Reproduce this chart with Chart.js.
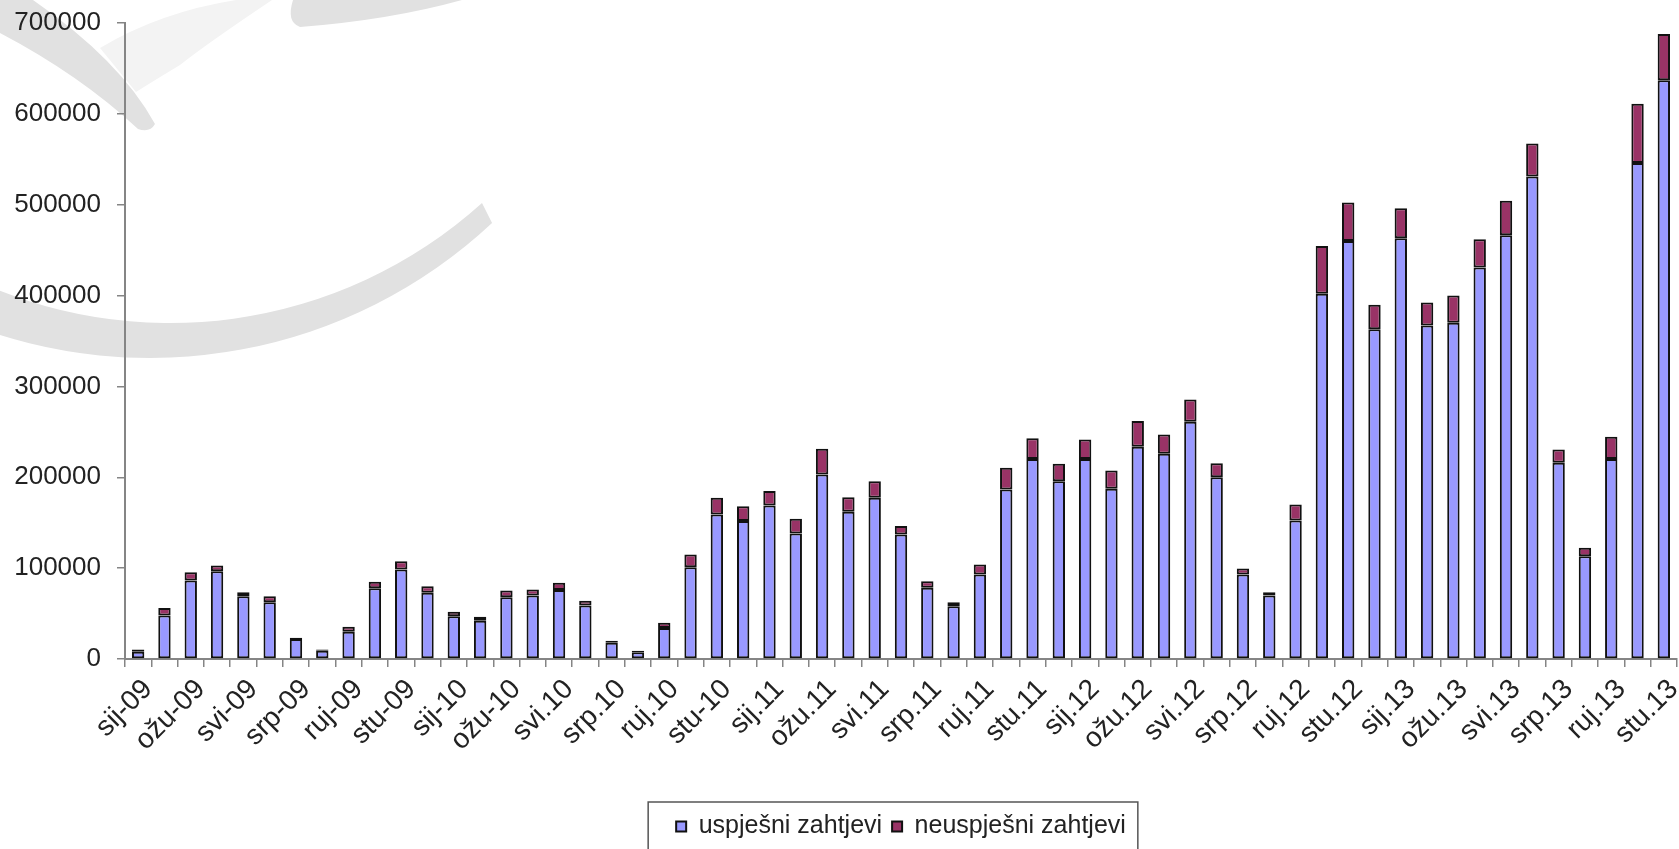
<!DOCTYPE html>
<html lang="hr">
<head>
<meta charset="utf-8">
<title>Zahtjevi po mjesecima</title>
<script src="https://cdn.jsdelivr.net/npm/chart.js@4.4.1/dist/chart.umd.min.js"></script>
<style>
  html, body { margin: 0; padding: 0; background: #fff; overflow: hidden; }
  #wrap { position: relative; width: 1679px; height: 849px; }
</style>
</head>
<body>
<div id="wrap"><canvas id="chart"></canvas></div>
<script>
// months sij-09 .. stu.13, every other one is shown on the axis
const months = [
    'sij-09', 'velj-09', 'ožu-09', 'tra-09', 'svi-09', 'lip-09', 'srp-09', 'kol-09', 'ruj-09', 'lis-09', 'stu-09', 'pro-09',
    'sij-10', 'velj-10', 'ožu-10', 'tra-10', 'svi.10', 'lip.10', 'srp.10', 'kol.10', 'ruj.10', 'lis.10', 'stu-10', 'pro.10',
    'sij.11', 'velj.11', 'ožu.11', 'tra.11', 'svi.11', 'lip.11', 'srp.11', 'kol.11', 'ruj.11', 'lis.11', 'stu.11', 'pro.11',
    'sij.12', 'velj.12', 'ožu.12', 'tra.12', 'svi.12', 'lip.12', 'srp.12', 'kol.12', 'ruj.12', 'lis.12', 'stu.12', 'pro.12',
    'sij.13', 'velj.13', 'ožu.13', 'tra.13', 'svi.13', 'lip.13', 'srp.13', 'kol.13', 'ruj.13', 'lis.13', 'stu.13'
];

const successful = [
    8000, 48000, 86500, 96500, 69000, 62500, 22000, 9000, 30000, 78000, 98500, 73000,
    47000, 42000, 68000, 70000, 76000, 59000, 18000, 7500, 34000, 101000, 159000, 152000,
    169000, 138000, 203000, 162000, 177500, 137000, 78500, 58000, 93000, 186500, 220000, 195500,
    220000, 187500, 233500, 226000, 261000, 200000, 93000, 70000, 152500, 402000, 460000, 363000,
    463000, 367000, 370000, 431000, 466500, 531000, 216000, 113000, 220000, 546000, 637000
];

const failed = [
    2500, 8000, 9000, 6500, 4500, 6500, 1500, 1500, 5500, 7000, 9000, 7000,
    5000, 4500, 7500, 6500, 8000, 5000, 2000, 1500, 6000, 14000, 18500, 16000,
    16000, 16500, 28500, 16000, 18000, 9500, 7000, 4500, 11000, 24000, 23000, 19500,
    21500, 20000, 28500, 21000, 24500, 15500, 6500, 3500, 17500, 52500, 42500, 27000,
    33000, 25500, 30000, 31000, 38000, 36500, 14500, 9500, 24500, 65000, 51000
];

const seriesNames = ['uspješni zahtjevi', 'neuspješni zahtjevi'];
const yMax = 700000;
const yStep = 100000;

const FONT = '"Liberation Sans", Arial, sans-serif';
const AXIS_GREY = '#858585';

// faint logo swoosh in the top left corner
const watermark = {
    id: 'watermark',
    beforeDraw(chart) {
        const ctx = chart.ctx;
        ctx.save();

        // pale strip
        ctx.fillStyle = '#f3f3f3';
        ctx.beginPath();
        ctx.moveTo(100, 48);
        ctx.quadraticCurveTo(160, 12, 236, 0);
        ctx.lineTo(272, 0);
        ctx.quadraticCurveTo(205, 45, 180, 65);
        ctx.quadraticCurveTo(155, 80, 136, 92);
        ctx.closePath();
        ctx.fill();

        ctx.fillStyle = '#e1e1e1';

        // big crescent
        ctx.beginPath();
        ctx.arc(150, -143, 501, Math.atan2(476, -150) + 0.08, Math.atan2(366, 342), true);
        ctx.arc(170, -142.6, 465.6, Math.atan2(345.6, 312), Math.atan2(425.6, -170) + 0.08, false);
        ctx.closePath();
        ctx.fill();

        // diagonal band top left
        ctx.beginPath();
        ctx.moveTo(0, 0);
        ctx.lineTo(33, 0);
        ctx.quadraticCurveTo(120, 60, 155, 124);
        ctx.quadraticCurveTo(150, 133, 138, 129);
        ctx.quadraticCurveTo(80, 75, 0, 33);
        ctx.closePath();
        ctx.fill();

        // band along the top edge
        ctx.beginPath();
        ctx.moveTo(293, 0);
        ctx.quadraticCurveTo(286, 22, 300, 27);
        ctx.quadraticCurveTo(390, 20, 462, 0);
        ctx.closePath();
        ctx.fill();

        ctx.restore();
    }
};

// frame round the legend, like the spreadsheet original
const legendFrame = {
    id: 'legendFrame',
    afterDraw(chart) {
        const boxes = chart.legend && chart.legend.legendHitBoxes;
        if (!boxes || !boxes.length) return;
        const left = Math.min(...boxes.map(b => b.left)) - 28;
        const right = Math.max(...boxes.map(b => b.left + b.width)) + 12;
        const top = boxes[0].top - 12;
        const bottom = boxes[0].top + boxes[0].height + 14;
        const ctx = chart.ctx;
        ctx.save();
        ctx.strokeStyle = '#555';
        ctx.lineWidth = 1.5;
        ctx.strokeRect(left, top, right - left, bottom - top);
        ctx.restore();
    }
};

new Chart(document.getElementById('chart'), {
    type: 'bar',
    data: {
        labels: months,
        datasets: [
            {
                label: seriesNames[0],
                data: successful,
                backgroundColor: '#9999ff',
                borderColor: '#111',
                borderWidth: 2,
                borderSkipped: false,
                categoryPercentage: 1,
                barPercentage: 0.47
            },
            {
                label: seriesNames[1],
                data: failed,
                backgroundColor: '#993366',
                borderColor: '#111',
                borderWidth: 2,
                borderSkipped: false,
                categoryPercentage: 1,
                barPercentage: 0.47
            }
        ]
    },
    options: {
        responsive: true,
        maintainAspectRatio: false,
        animation: false,
        layout: { padding: { left: 14, right: 2, top: 0, bottom: 0 } },
        plugins: {
            legend: {
                position: 'bottom',
                fullSize: false,
                labels: {
                    color: '#222',
                    font: { family: FONT, size: 25 },
                    boxWidth: 10,
                    boxHeight: 10,
                    padding: 10
                }
            },
            tooltip: { enabled: false }
        },
        scales: {
            x: {
                stacked: true,
                offset: true,
                grid: {
                    offset: true,
                    drawOnChartArea: false,
                    drawTicks: true,
                    tickLength: 8,
                    color: AXIS_GREY,
                    lineWidth: 1.5
                },
                border: { color: AXIS_GREY, width: 2 },
                ticks: {
                    autoSkip: false,
                    minRotation: 45,
                    maxRotation: 45,
                    padding: 6,
                    labelOffset: 10,
                    color: '#222',
                    font: { family: FONT, size: 28 },
                    callback: (value, index) => (index % 2 === 0 ? months[index] : '')
                },
                afterFit(scale) {
                    scale.height = 145;
                    scale.paddingRight = 0;   // plot runs to the right edge
                }
            },
            y: {
                stacked: true,
                min: 0,
                max: yMax,
                grid: {
                    drawOnChartArea: false,
                    drawTicks: true,
                    tickLength: 8,
                    color: AXIS_GREY,
                    lineWidth: 1.5
                },
                border: { color: AXIS_GREY, width: 2 },
                ticks: {
                    stepSize: yStep,
                    padding: 16,
                    color: '#222',
                    font: { family: FONT, size: 26 },
                    callback: value => String(value)
                },
                afterFit(scale) {
                    scale.width = 111;
                    scale.paddingTop = 23;
                }
            }
        }
    },
    plugins: [watermark, legendFrame]
});
</script>
</body>
</html>
